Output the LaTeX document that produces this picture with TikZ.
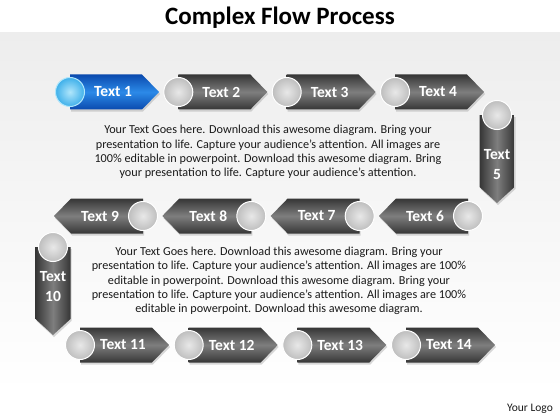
\documentclass[tikz,border=0pt]{standalone}
\usepackage{fontspec}
\setmainfont{Carlito}
\usetikzlibrary{shadows}
\definecolor{arrdark}{HTML}{363636}
\definecolor{arrmid}{HTML}{7E7E7E}
\definecolor{bluedark}{HTML}{0A4AAE}
\definecolor{bluemid}{HTML}{2C8AE8}
\definecolor{ballin}{HTML}{E8E8E8}
\definecolor{ballout}{HTML}{BEBEBE}
\definecolor{bballin}{HTML}{B0E6FB}
\definecolor{bballout}{HTML}{3FB0EA}
\definecolor{bodytext}{HTML}{1A1A1A}
\newcommand\flowR[3]{\path[#3] (#1,#2-17.5) -- (#1+72,#2-17.5) -- (#1+89,#2) -- (#1+72,#2+17.5) -- (#1,#2+17.5) -- cycle;}
\newcommand\flowL[3]{\path[#3] (#1,#2-17.5) -- (#1-72,#2-17.5) -- (#1-89,#2) -- (#1-72,#2+17.5) -- (#1,#2+17.5) -- cycle;}
\newcommand\flowD[3]{\path[#3] (#1-17.5,#2) -- (#1+17.5,#2) -- (#1+17.5,#2+72) -- (#1,#2+88) -- (#1-17.5,#2+72) -- cycle;}
\begin{document}
\begin{tikzpicture}[x=1pt,y=-1pt,
  shad/.style={drop shadow={opacity=0.3,shadow xshift=1pt,shadow yshift=-2pt}},
  harrow/.style={shad,top color=arrdark,bottom color=arrdark,middle color=arrmid},
  varrow/.style={shad,left color=arrdark,right color=arrdark,middle color=arrmid},
  barrow/.style={shad,top color=bluedark,bottom color=bluedark,middle color=bluemid},
  ball/.style={circle,minimum size=29pt,inner sep=0pt,draw=white,line width=1pt,inner color=ballin,outer color=ballout},
  bball/.style={ball,inner color=bballin,outer color=bballout,draw=bballin},
  lbl/.style={text=white,font=\fontsize{15.5}{18}\selectfont\bfseries,align=center,inner sep=0pt},
  para/.style={text=bodytext,font=\fontsize{12.2}{14.2}\selectfont,align=center,inner sep=0pt}]
\useasboundingbox (0,0) rectangle (560,420);
\fill[white] (0,0) rectangle (560,420);
\shade[top color=gray!14,bottom color=white] (0,33) rectangle (560,392);
\node[font=\fontsize{25}{30}\selectfont\bfseries] (title) at (280,18) {Complex Flow Process};
\node[font=\fontsize{11.5}{13}\selectfont,text=bodytext] (logo) at (530,409) {Your Logo};
% row 1
\flowR{70}{92}{barrow}
\flowR{178.3}{92}{harrow}
\flowR{286.7}{92}{harrow}
\flowR{395}{92}{harrow}
% 5
\flowD{497}{115}{varrow}
% row 2
\flowL{468}{216}{harrow}
\flowL{359.7}{216}{harrow}
\flowL{251.3}{216}{harrow}
\flowL{143}{216}{harrow}
% 10
\flowD{53}{247}{varrow}
% row 3
\flowR{80}{345}{harrow}
\flowR{188.7}{345}{harrow}
\flowR{297.3}{345}{harrow}
\flowR{406}{345}{harrow}
% balls
\node[bball] (c1) at (70,92) {};
\node[ball] (c2) at (178.3,92) {};
\node[ball] (c3) at (286.7,92) {};
\node[ball] (c4) at (395,92) {};
\node[ball] (c5) at (497,115) {};
\node[ball] (c6) at (468,216) {};
\node[ball] (c7) at (359.7,216) {};
\node[ball] (c8) at (251.3,216) {};
\node[ball] (c9) at (143,216) {};
\node[ball] (c10) at (53,247) {};
\node[ball] (c11) at (80,345) {};
\node[ball] (c12) at (188.7,345) {};
\node[ball] (c13) at (297.3,345) {};
\node[ball] (c14) at (406,345) {};
% labels
\node[lbl] (t1) at (113,92) {Text 1};
\node[lbl] (t2) at (221.3,92) {Text 2};
\node[lbl] (t3) at (329.7,92) {Text 3};
\node[lbl] (t4) at (438,92) {Text 4};
\node[lbl,font=\fontsize{15.5}{20}\selectfont\bfseries] (t5) at (497,165) {Text\\5};
\node[lbl] (t6) at (425,216) {Text 6};
\node[lbl] (t7) at (316.7,216) {Text 7};
\node[lbl] (t8) at (208.3,216) {Text 8};
\node[lbl] (t9) at (100,216) {Text 9};
\node[lbl,font=\fontsize{15.5}{20}\selectfont\bfseries] (t10) at (53,287) {Text\\10};
\node[lbl] (t11) at (123,345) {Text 11};
\node[lbl] (t12) at (231.7,345) {Text 12};
\node[lbl] (t13) at (340.3,345) {Text 13};
\node[lbl] (t14) at (449,345) {Text 14};
% paragraphs
\node[para] (p1) at (268,152) {Your Text Goes here. Download this awesome diagram. Bring your\\presentation to life. Capture your audience’s attention. All images are\\100\% editable in powerpoint. Download this awesome diagram. Bring\\your presentation to life. Capture your audience’s attention.};
\node[para] (p2) at (279,281) {Your Text Goes here. Download this awesome diagram. Bring your\\presentation to life. Capture your audience’s attention. All images are 100\%\\editable in powerpoint. Download this awesome diagram. Bring your\\presentation to life. Capture your audience’s attention. All images are 100\%\\editable in powerpoint. Download this awesome diagram.};
\end{tikzpicture}
\end{document}
